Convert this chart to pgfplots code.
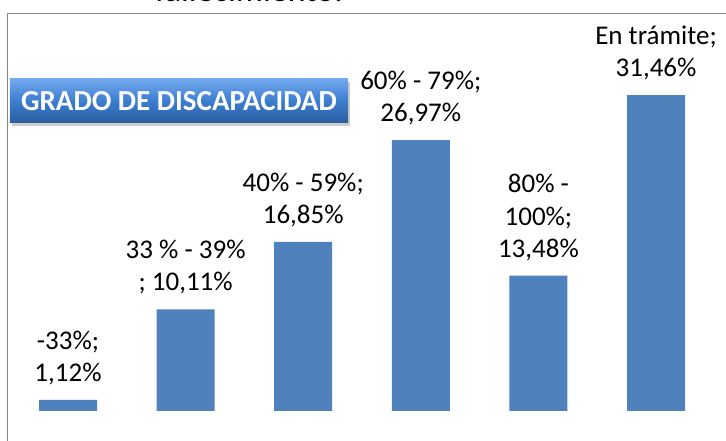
\documentclass[border=0pt]{standalone}
\usepackage{pgfplots}
\pgfplotsset{compat=1.18}
\usepackage{fontspec}
\setmainfont{Carlito}
\usetikzlibrary{shadows}
\definecolor{barblue}{HTML}{4F81BD}
\definecolor{framegray}{HTML}{868686}
\definecolor{boxtop}{HTML}{72A9EE}
\definecolor{boxmid}{HTML}{3C7DD0}
\definecolor{boxbot}{HTML}{2A5E9E}
\tikzset{lbl/.style={align=center, font=\fontsize{27bp}{32bp}\selectfont, inner sep=0pt, yshift=15bp, anchor=south, text=black}}
\begin{document}
\begin{tikzpicture}[x=1bp,y=1bp]
\useasboundingbox (0,0) rectangle (726,441);
\draw[color=framegray, line width=1.5bp] (7.5,-5) -- (7.5,427.5) -- (740,427.5);
\node[anchor=base west, inner sep=0pt, font=\fontsize{34bp}{40bp}\selectfont] at (155,439) {fallecimiento.};
\begin{axis}[at={(9.2bp,30bp)}, anchor=south west, scale only axis,
  width=705.6bp, height=401.6bp, xmin=-0.5, xmax=5.5, ymin=0, ymax=40,
  hide axis, ybar, bar width=58bp, clip=false]
\addplot[fill=barblue, draw=none] coordinates {
  (0,1.12) (1,10.11) (2,16.85) (3,26.97) (4,13.48) (5,31.46)
};
\node[lbl] at (axis cs:0,1.12) {-33\%;\\1,12\%};
\node[lbl] at (axis cs:1,10.11) {33 \% - 39\%\\; 10,11\%};
\node[lbl] at (axis cs:2,16.85) {40\% - 59\%;\\16,85\%};
\node[lbl] at (axis cs:3,26.97) {60\% - 79\%;\\26,97\%};
\node[lbl] at (axis cs:4,13.48) {80\% -\\100\%;\\13,48\%};
\node[lbl] at (axis cs:5,31.46) {En trámite;\\31,46\%};
\end{axis}
\node[minimum width=338bp, minimum height=44bp, inner sep=0pt,
  top color=boxtop, bottom color=boxbot, middle color=boxmid,
  drop shadow={shadow xshift=2bp, shadow yshift=-3bp, opacity=0.4},
  text=white, font=\bfseries\fontsize{29bp}{32bp}\selectfont] at (179,340) {GRADO DE DISCAPACIDAD};
\end{tikzpicture}
\end{document}
